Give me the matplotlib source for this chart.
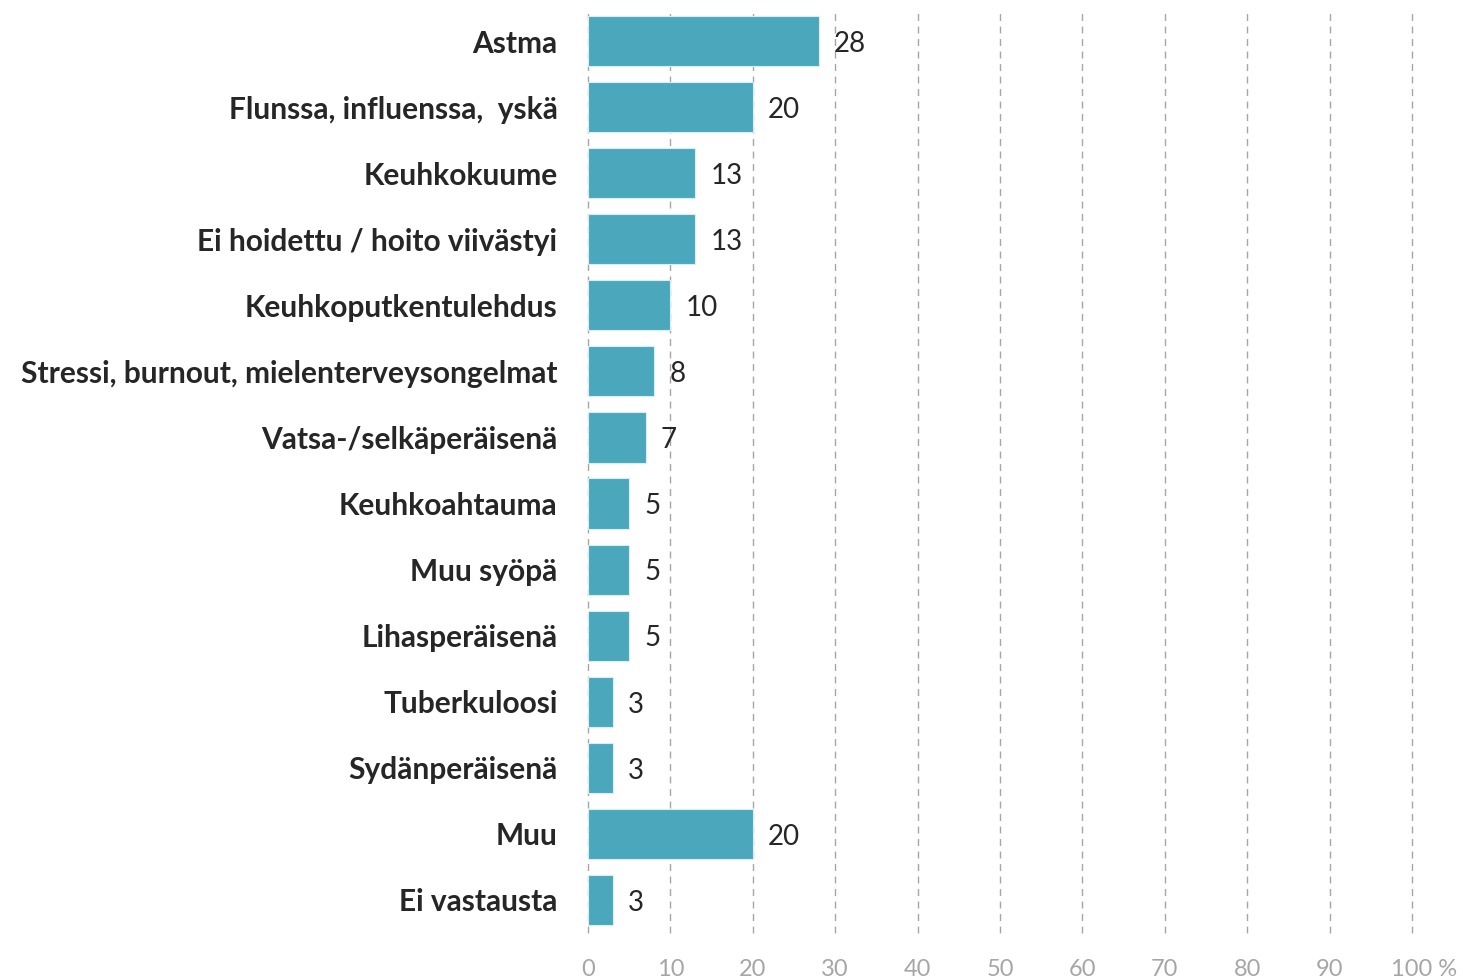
import matplotlib
matplotlib.use("Agg")
import matplotlib.pyplot as plt
from matplotlib.transforms import ScaledTranslation

categories = ["Astma", "Flunssa, influenssa,  yskä", "Keuhkokuume", "Ei hoidettu / hoito viivästyi",
              "Keuhkoputkentulehdus", "Stressi, burnout, mielenterveysongelmat", "Vatsa-/selkäperäisenä",
              "Keuhkoahtauma", "Muu syöpä", "Lihasperäisenä", "Tuberkuloosi", "Sydänperäisenä",
              "Muu", "Ei vastausta"]
values = [28, 20, 13, 13, 10, 8, 7, 5, 5, 5, 3, 3, 20, 3]
xticks = [0, 10, 20, 30, 40, 50, 60, 70, 80, 90, 100]
xtick_labels = ["0", "10", "20", "30", "40", "50", "60", "70", "80", "90", "100 %"]

plt.rcParams['font.family'] = ['Lato', 'DejaVu Sans']

fig = plt.figure(figsize=(14.63, 9.8), dpi=100)
ax = fig.add_axes([588/1463, 1-933/980, (1412-588)/1463, 925/980])

y = list(range(len(categories)))
ax.barh(y, values, height=0.76, color="#4BA7BC", edgecolor="#D8EEF3", linewidth=0.8, zorder=3)
ax.set_ylim(len(categories)-0.5, -0.5)
ax.set_xlim(0, 100)

for xi in xticks:
    ax.axvline(xi, color="#A6A6A6", linestyle=(0, (5, 4)), linewidth=1.0, zorder=1, clip_on=False)

for yi, v in zip(y, values):
    ax.annotate(str(v), (v, yi), xytext=(11, -2), textcoords="offset points",
                ha="left", va="center", fontsize=20, color="#262626")

ax.set_yticks(y)
ax.set_yticklabels(categories, fontsize=21.5, fontweight="bold", color="#262626")
ax.set_xticks(xticks)
ax.set_xticklabels(xtick_labels, fontsize=17, color="#A6A6A6")
ax.tick_params(axis="y", length=0, pad=22)
ax.tick_params(axis="x", length=0, pad=19)
last = ax.get_xticklabels()[-1]
last.set_transform(last.get_transform() + ScaledTranslation(12/100, 0, fig.dpi_scale_trans))
for s in ax.spines.values():
    s.set_visible(False)

fig.savefig("out.png", dpi=100)
